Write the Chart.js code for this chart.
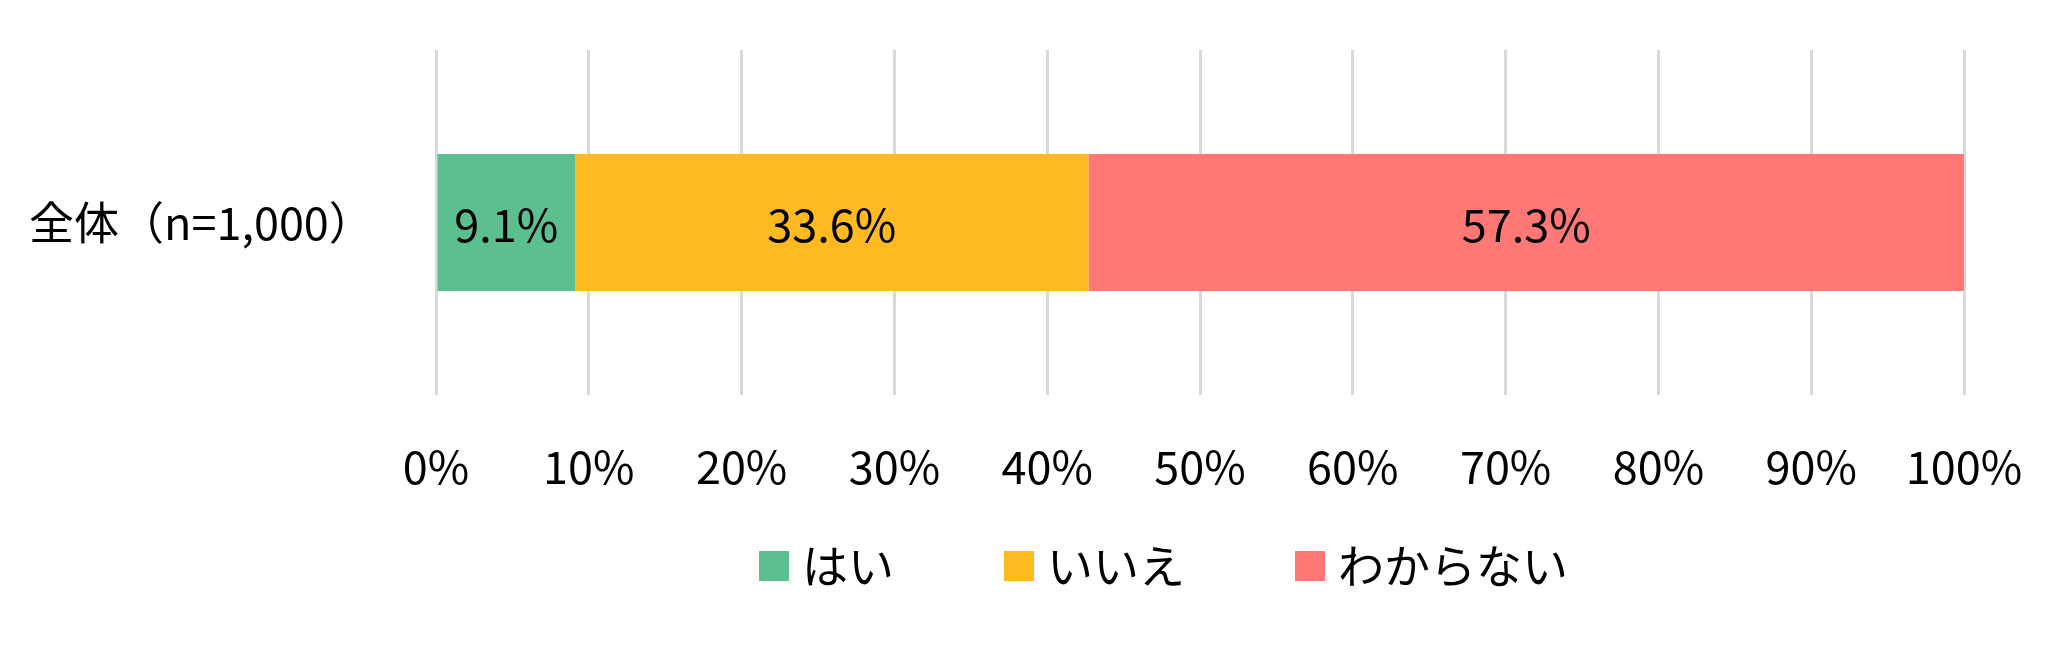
<!DOCTYPE html>
<html>
<head>
<meta charset="utf-8">
<script src="https://cdn.jsdelivr.net/npm/chart.js@4/dist/chart.umd.min.js"></script>
<style>
  html, body { margin: 0; padding: 0; background: #fff; }
  #wrap { width: 2052px; height: 648px; position: relative; }
</style>
</head>
<body>
<div id="wrap"><canvas id="c"></canvas></div>
<script>
const categories = ['全体（n=1,000）'];
const seriesNames = ['はい', 'いいえ', 'わからない'];
const yesValues = [9.1];
const noValues = [33.6];
const unknownValues = [57.3];
const xTicks = [0, 10, 20, 30, 40, 50, 60, 70, 80, 90, 100];
const colors = ['#5bbf90', '#ffba22', '#ff7875'];

const FONT = '"Noto Sans CJK JP", "Noto Sans", sans-serif';
const FS = 45;
const LEGEND_FS = 46;

function swatch(color) {
  const c = document.createElement('canvas');
  c.width = 30; c.height = 30;
  const g = c.getContext('2d');
  g.fillStyle = color;
  g.fillRect(0, 0, 30, 30);
  return c;
}

const dataLabels = {
  id: 'dataLabels',
  afterDatasetsDraw(chart) {
    const ctx = chart.ctx;
    ctx.save();
    ctx.font = FS + 'px ' + FONT;
    ctx.fillStyle = '#000';
    ctx.textAlign = 'center';
    ctx.textBaseline = 'middle';
    chart.data.datasets.forEach((ds, i) => {
      const meta = chart.getDatasetMeta(i);
      meta.data.forEach((el, j) => {
        const p = el.getProps(['x', 'y', 'base'], true);
        ctx.fillText(ds.data[j].toFixed(1) + '%', (p.x + p.base) / 2, p.y + 2);
      });
    });
    ctx.restore();
  }
};

const legendPlace = {
  id: 'legendPlace',
  afterInit(chart) {
    const lg = chart.legend;
    if (!lg || lg._fitWrapped) return;
    const orig = lg.fit.bind(lg);
    lg.fit = function () { orig(); this.height = 154; };
    lg._fitWrapped = true;
  },
  afterLayout(chart) {
    const lg = chart.legend;
    if (!lg) return;
    const w = lg.right - lg.left;
    const cx = 1168.5;
    lg.left = cx - w / 2; lg.right = cx + w / 2;
    lg.top = 422.7; lg.bottom = chart.height;
    lg.height = lg.bottom - lg.top;
  }
};

new Chart(document.getElementById('c'), {
  type: 'bar',
  data: {
    labels: categories,
    datasets: [
      { label: seriesNames[0], data: yesValues, backgroundColor: colors[0], borderWidth: 0 },
      { label: seriesNames[1], data: noValues, backgroundColor: colors[1], borderWidth: 0 },
      { label: seriesNames[2], data: unknownValues, backgroundColor: colors[2], borderWidth: 0 }
    ]
  },
  options: {
    indexAxis: 'y',
    responsive: true,
    maintainAspectRatio: false,
    animation: false,
    devicePixelRatio: 1,
    layout: { padding: { top: 50, left: 29, right: 88, bottom: 0 } },
    datasets: { bar: { categoryPercentage: 1, barPercentage: 0.397 } },
    scales: {
      x: {
        stacked: true,
        min: 0, max: 100,
        afterBuildTicks(scale) { scale.ticks = xTicks.map(v => ({ value: v })); },
        ticks: {
          font: { family: FONT, size: FS },
          color: '#000',
          padding: 0,
          maxRotation: 0,
          autoSkip: false,
          callback: v => v + '%'
        },
        grid: { color: '#d9d9d9', lineWidth: 3, drawTicks: true, tickLength: 45, tickColor: 'rgba(0,0,0,0)' },
        border: { display: false },
        afterFit(scale) { scale.height = 99; }
      },
      y: {
        stacked: true,
        ticks: {
          font: { family: FONT, size: FS },
          color: '#000',
          crossAlign: 'far',
          padding: 0
        },
        grid: { display: false, drawTicks: false },
        border: { display: false },
        afterFit(scale) { scale.width = 407; }
      }
    },
    plugins: {
      legend: {
        position: 'bottom',
        labels: {
          font: { family: FONT, size: LEGEND_FS },
          color: '#000',
          usePointStyle: true,
          boxWidth: 10,
          boxHeight: 30,
          padding: 120,
          generateLabels(chart) {
            const items = Chart.defaults.plugins.legend.labels.generateLabels(chart);
            return items.map((it, i) => Object.assign(it, { pointStyle: swatch(colors[i]) }));
          }
        }
      },
      tooltip: { enabled: false }
    }
  },
  plugins: [dataLabels, legendPlace]
});
</script>
</body>
</html>
